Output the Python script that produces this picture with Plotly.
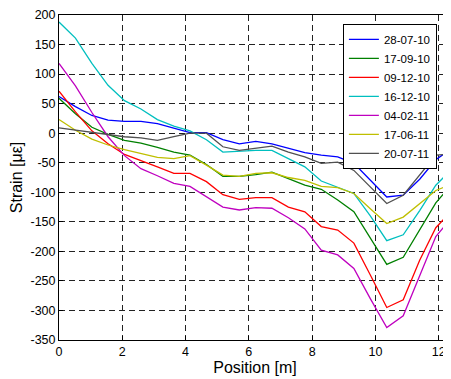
import plotly.graph_objects as go

position = [0, 0.52, 1.04, 1.55, 2.07, 2.59, 3.11, 3.63, 4.14, 4.66, 5.18, 5.70,
            6.22, 6.73, 7.25, 7.77, 8.29, 8.81, 9.32, 9.84, 10.36, 10.88, 11.40, 11.91, 12.43]

s_280710 = [62, 45, 30, 22, 20, 20, 16, 8, 1, 1, -11, -18, -14, -18, -25, -33, -37, -40,
            -51, -80, -108, -105, -78, -45, -25]
s_170910 = [59, 33, 10, -2, -12, -17, -24, -32, -37, -53, -73, -73, -70, -66, -77, -88, -95,
            -113, -133, -178, -222, -210, -163, -118, -85]
s_091210 = [71, 36, 4, -18, -36, -46, -57, -68, -68, -82, -104, -112, -109, -109, -125, -133,
            -158, -164, -186, -240, -295, -282, -215, -160, -130]
s_161210 = [188, 161, 118, 81, 55, 41, 23, 12, 4, -11, -32, -30, -29, -29, -43, -57, -81, -92,
            -102, -140, -182, -172, -131, -88, -60]
s_040211 = [118, 80, 35, -6, -38, -60, -72, -85, -90, -108, -125, -130, -126, -127, -143, -162,
            -198, -206, -229, -280, -329, -309, -240, -175, -142]
s_170611 = [23, 5, -10, -20, -28, -34, -41, -43, -38, -54, -71, -73, -68, -67, -75, -80, -90,
            -92, -102, -128, -153, -142, -120, -97, -86]
s_200711 = [9, 5, 2, -2, -6, -8, -12, -6, 0, 0, -23, -29, -26, -22, -32, -40, -51, -49, -63,
            -91, -119, -105, -71, -37, -35]

series_names = ["28-07-10", "17-09-10", "09-12-10", "16-12-10", "04-02-11", "17-06-11", "20-07-11"]
series_values = [s_280710, s_170910, s_091210, s_161210, s_040211, s_170611, s_200711]
series_colors = ["#0000ff", "#008000", "#ff0000", "#00bfbf", "#bf00bf", "#bfbf00", "#505050"]

x_ticks = [0, 2, 4, 6, 8, 10, 12]
y_ticks = [200, 150, 100, 50, 0, -50, -100, -150, -200, -250, -300, -350]

fig = go.Figure()
for name, vals, col in zip(series_names, series_values, series_colors):
    fig.add_trace(go.Scatter(x=position, y=vals, mode="lines", name=name,
                             line=dict(color=col, width=1.3)))

# the page body adds an 8px offset, so the figure is 8px smaller than the window
font_family = "Liberation Sans, Arial, Helvetica, sans-serif"
fig.update_layout(
    width=443, height=371,
    margin=dict(l=51, r=0, t=6.5, b=39),
    paper_bgcolor="white", plot_bgcolor="white",
    font=dict(family=font_family, size=12.5, color="black"),
    showlegend=True,
    legend=dict(x=0.964, y=0.973, xanchor="right", yanchor="top",
                bgcolor="white", bordercolor="black", borderwidth=1,
                font=dict(size=11.5, family=font_family),
                tracegroupgap=0, itemwidth=30),
)
fig.update_xaxes(
    range=[0, 12.39], tickvals=x_ticks, ticktext=[str(t) for t in x_ticks],
    showgrid=True, gridcolor="#222222", griddash="6px,4px", gridwidth=1,
    showline=True, linecolor="black", linewidth=1, mirror=True,
    ticks="inside", ticklen=4, tickcolor="black",
    zeroline=False, automargin=False,
    title=dict(text="Position [m]", font=dict(size=16), standoff=2),
)
fig.update_yaxes(
    range=[-350, 200], tickvals=y_ticks, ticktext=[str(t) for t in y_ticks],
    showgrid=True, gridcolor="#222222", griddash="6px,4px", gridwidth=1,
    showline=True, linecolor="black", linewidth=1, mirror=False,
    ticks="inside", ticklen=4, tickcolor="black",
    zeroline=False, automargin=False,
    title=dict(text="Strain [\u03bc\u03b5]", font=dict(size=16), standoff=4),
)

fig.write_html("out.html")
